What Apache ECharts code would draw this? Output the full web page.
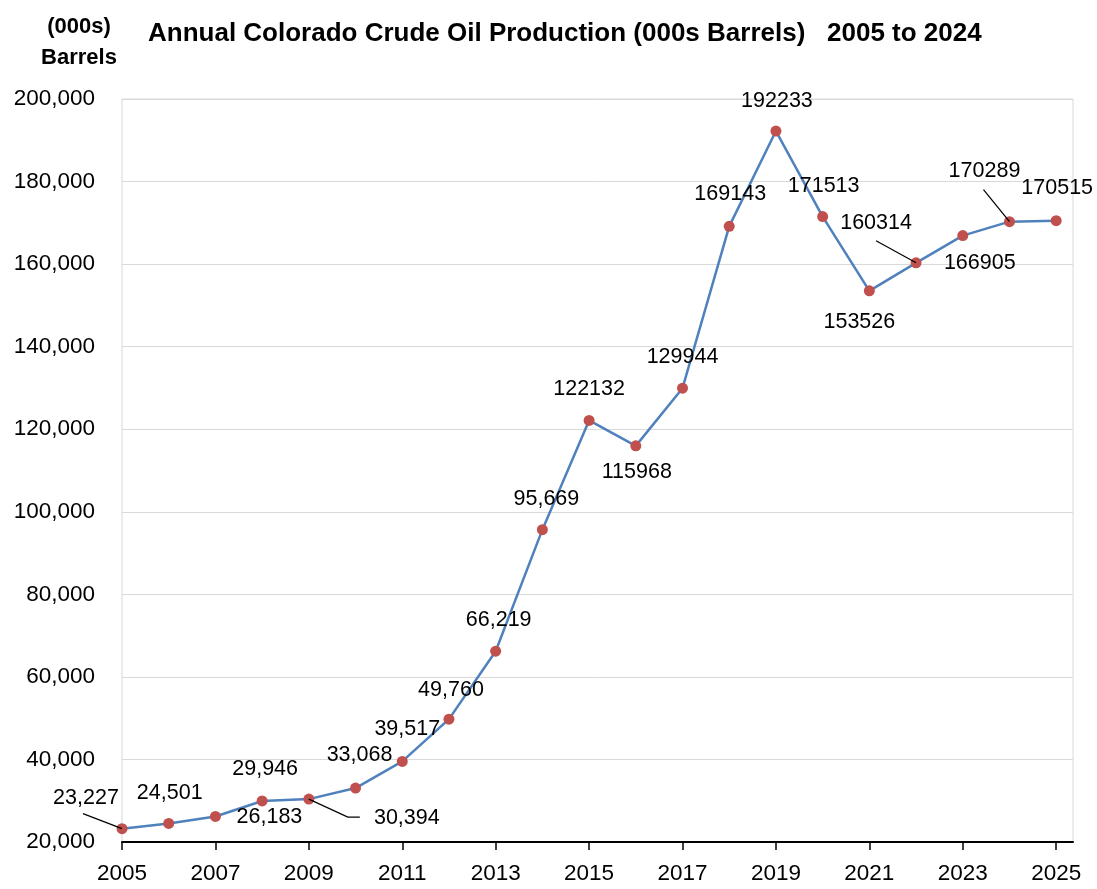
<!DOCTYPE html>
<html>
<head>
<meta charset="utf-8">
<script src="https://cdn.jsdelivr.net/npm/echarts@6/dist/echarts.min.js"></script>
<style>html,body{margin:0;padding:0;background:#fff}#c{width:1097px;height:889px}</style>
</head>
<body>
<div id="c"></div>
<script>
const years = [2005,2006,2007,2008,2009,2010,2011,2012,2013,2014,2015,2016,2017,2018,2019,2020,2021,2022,2023,2024,2025];
const production = [23227,24501,26183,29946,30394,33068,39517,49760,66219,95669,122132,115968,129944,169143,192233,171513,153526,160314,166905,170289,170515];
const xTickLabels = [2005,2007,2009,2011,2013,2015,2017,2019,2021,2023,2025];
const withComma = [true,true,true,true,true,true,true,true,true,true,false,false,false,false,false,false,false,false,false,false,false];

// label offsets (px) from each point
const labelOffsets = [[-36,-31],[1,-30],[54,1],[3,-32],[98,19],[4,-33],[5,-32],[2,-29],[3,-31],[4,-31],[0,-31],[1,26],[0,-31],[1,-32],[1,-30],[1,-31],[-10,31],[-40,-40],[17,27],[-25,-51],[1,-33]];
// leader line bends (px, relative to the point) for labels that carry one
const leaderIndex = [0, 4, 17, 19];
const leaderPaths = [
  [[-39,-15]],
  [[39,18],[51,18]],
  [[-40,-22]],
  [[-26,-32]]
];

const FONT = '"Liberation Sans", Arial, sans-serif';
const chart = echarts.init(document.getElementById('c'), null, {renderer:'canvas'});

chart.setOption({
  animation:false,
  backgroundColor:'#ffffff',
  title:[{
    text:'Annual Colorado Crude Oil Production (000s Barrels)   2005 to 2024',
    left:143, top:16,
    textStyle:{fontFamily:FONT, fontSize:26, fontWeight:'bold', color:'#000'}
  },{
    text:'(000s)\nBarrels',
    left:74, top:6, textAlign:'center',
    textStyle:{fontFamily:FONT, fontSize:22, fontWeight:'bold', color:'#000', lineHeight:31, align:'center'}
  }],
  grid:{left:122, right:24, top:99, bottom:47, show:true, borderColor:'#d9d9d9', borderWidth:1, outerBoundsMode:'none', containLabel:false},
  xAxis:{
    type:'value', min:2005, max:2025.36,
    axisLine:{show:true, lineStyle:{color:'#000', width:2}},
    axisTick:{show:true, length:8, lineStyle:{color:'#000', width:1.5}, customValues:xTickLabels},
    axisLabel:{fontFamily:FONT, fontSize:22.5, color:'#000', margin:20, customValues:xTickLabels, formatter: v=>String(v)},
    splitLine:{show:false}
  },
  yAxis:{
    type:'value', min:20000, max:200000, interval:20000,
    axisLine:{show:false}, axisTick:{show:false},
    axisLabel:{fontFamily:FONT, fontSize:22.5, color:'#000', margin:27, formatter: v=>v.toLocaleString('en-US')},
    splitLine:{show:true, lineStyle:{color:'#d9d9d9', width:1}}
  },
  series:[{
    type:'custom',
    silent:true,
    z:3,
    data: leaderIndex.map((i,k)=>[years[i], production[i], k]),
    renderItem:(params, api)=>{
      const pt = api.coord([api.value(0), api.value(1)]);
      const path = leaderPaths[api.value(2)];
      return {
        type:'polyline',
        shape:{points:[pt].concat(path.map(d=>[pt[0]+d[0], pt[1]+d[1]]))},
        style:{stroke:'#000', lineWidth:1.2, fill:null}
      };
    }
  },{
    type:'line',
    z:2,
    data: years.map((y,i)=>[y, production[i]]),
    symbol:'circle', symbolSize:11,
    itemStyle:{color:'#c0504d'},
    lineStyle:{color:'#4f81bd', width:2.5},
    label:{
      show:true, position:'inside',
      fontFamily:FONT, fontSize:21.5, color:'#000',
      formatter: p => withComma[p.dataIndex] ? p.value[1].toLocaleString('en-US') : String(p.value[1])
    },
    labelLayout: p => ({dx: labelOffsets[p.dataIndex][0], dy: labelOffsets[p.dataIndex][1]})
  }]
});
</script>
</body>
</html>
